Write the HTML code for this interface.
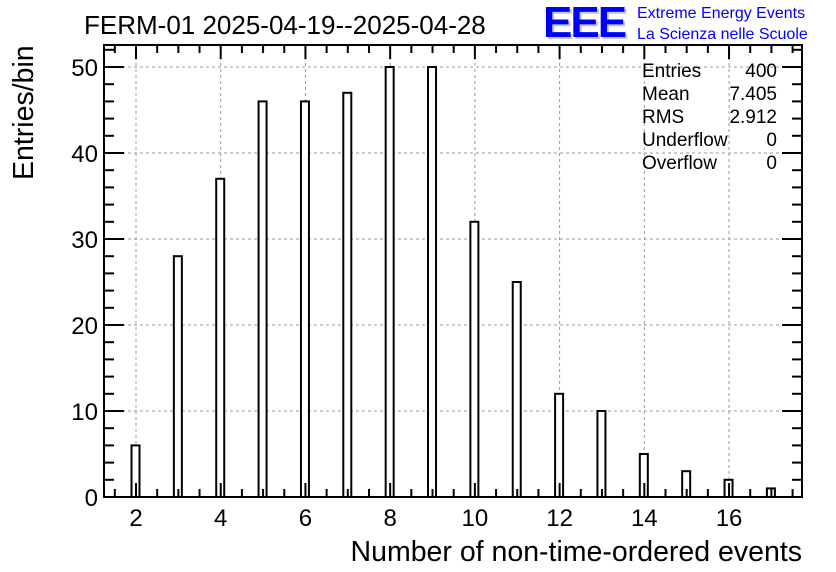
<!DOCTYPE html>
<html><head><meta charset="utf-8"><style>
body{margin:0;background:#fff;}
svg{display:block;font-family:"Liberation Sans",Arial,sans-serif;}
</style></head><body>
<svg id="c" width="836" height="572" viewBox="0 0 836 572">
<rect width="836" height="572" fill="#fff"/>
<text x="84" y="34" font-size="26">FERM-01 2025-04-19--2025-04-28</text>
<g>
<text x="545" y="39" font-size="44" font-weight="bold" fill="#c8c8c8" letter-spacing="-2">EEE</text>
<text x="543" y="37" font-size="44" font-weight="bold" fill="#0000ff" letter-spacing="-2">EEE</text>
<text x="637" y="18" font-size="16" fill="#0000ff">Extreme Energy Events</text>
<text x="637" y="39" font-size="16" fill="#0000ff">La Scienza nelle Scuole</text>
</g>
<g id="grid"></g>
<g id="bars"></g>
<g id="axes"></g>
<g font-size="19">
<text x="642" y="77">Entries</text><text x="777" y="77" text-anchor="end">400</text>
<text x="642" y="100">Mean</text><text x="777" y="100" text-anchor="end">7.405</text>
<text x="642" y="123">RMS</text><text x="777" y="123" text-anchor="end">2.912</text>
<text x="642" y="146">Underflow</text><text x="777" y="146" text-anchor="end">0</text>
<text x="642" y="169">Overflow</text><text x="777" y="169" text-anchor="end">0</text>
</g>
<text x="802" y="561" font-size="28.5" text-anchor="end">Number of non-time-ordered events</text>
<text transform="translate(33,180) rotate(-90)" font-size="28.5">Entries/bin</text>
</svg>
<script>
const categories=[2,3,4,5,6,7,8,9,10,11,12,13,14,15,16,17];
const counts=[6,28,37,46,46,47,50,50,32,25,12,10,5,3,2,1];
const xTicks=[2,4,6,8,10,12,14,16];
const yTicks=[0,10,20,30,40,50];
const L=104,R=802,T=45,B=497;
const X=v=>136+(v-2)*42.36;
const Y=v=>B-v*8.6;
const ns="http://www.w3.org/2000/svg";
function mk(tag,attrs,parent){const e=document.createElementNS(ns,tag);for(const k in attrs)e.setAttribute(k,attrs[k]);parent.appendChild(e);return e;}
const grid=document.getElementById('grid'),bars=document.getElementById('bars'),axes=document.getElementById('axes');
xTicks.forEach(v=>{const l=mk('line',{x1:X(v),x2:X(v),y1:T,y2:B,stroke:'#999','stroke-dasharray':'3,3','stroke-width':1},grid);

});
yTicks.forEach(v=>{if(v===0)return;const l=mk('line',{x1:L,x2:R,y1:Y(v),y2:Y(v),stroke:'#999','stroke-dasharray':'3,3','stroke-width':1},grid);

});
categories.forEach((c,i)=>{const cx=X(c)-0.5;const r=mk('rect',{x:cx-4,y:Y(counts[i]),width:8,height:B-Y(counts[i]),fill:'#fff',stroke:'#000','stroke-width':2},bars);

});
const frame=mk('rect',{x:L,y:T,width:R-L,height:B-T,fill:'none',stroke:'#000','stroke-width':2},axes);


for(let v=1.5;v<=17.8;v+=0.5){const maj=Math.abs(v/2-Math.round(v/2))<1e-6;const len=maj?14:8;
mk('line',{x1:X(v),x2:X(v),y1:B,y2:B-len,stroke:'#000','stroke-width':2},axes);
mk('line',{x1:X(v),x2:X(v),y1:T,y2:T+len,stroke:'#000','stroke-width':2},axes);}
for(let v=0;v<=52;v+=2){const maj=v%10===0;const len=maj?20:10;
mk('line',{x1:L,x2:L+len,y1:Y(v),y2:Y(v),stroke:'#000','stroke-width':2},axes);
mk('line',{x1:R,x2:R-len,y1:Y(v),y2:Y(v),stroke:'#000','stroke-width':2},axes);}
xTicks.forEach(v=>{const t=mk('text',{x:X(v),y:B+29,'font-size':24,'text-anchor':'middle'},axes);t.textContent=v;

});
yTicks.forEach(v=>{const t=mk('text',{x:L-6,y:Y(v)+9,'font-size':24,'text-anchor':'end'},axes);t.textContent=v;

});
</script>
</body></html>
